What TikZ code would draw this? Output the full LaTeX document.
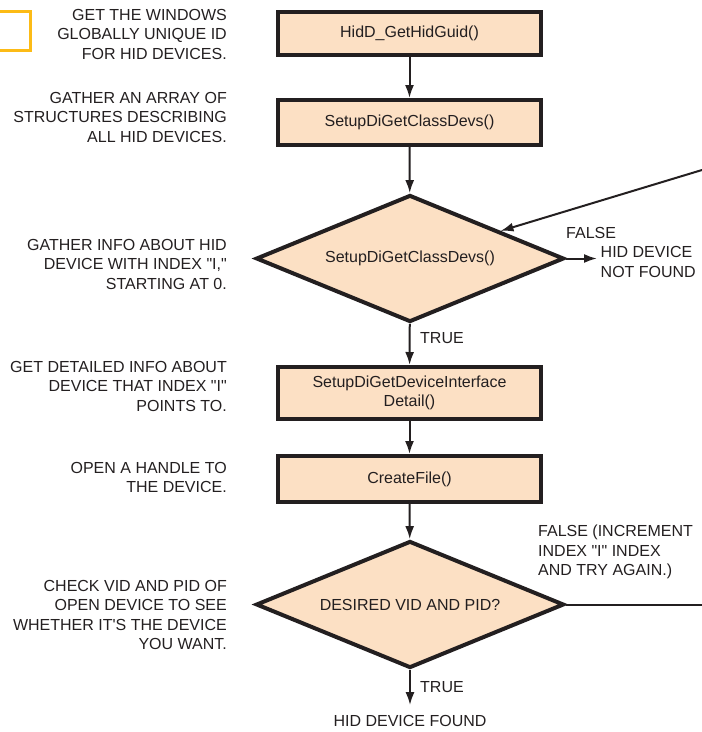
\documentclass[tikz,border=0pt]{standalone}
\usepackage{fontspec}
\setmainfont{Liberation Sans}[Ligatures=TeXOff]
\usetikzlibrary{shapes.geometric,arrows.meta,calc}
\definecolor{peach}{RGB}{252,224,196}
\definecolor{ink}{RGB}{35,31,32}
\definecolor{gold}{RGB}{252,187,22}

\begin{document}
\begin{tikzpicture}
[x=1pt,y=-1pt,>={Latex[length=13pt,width=9pt]},
 font=\fontsize{16}{19.5}\selectfont,text=ink,
 callbox/.style={draw=ink,line width=4pt,fill=peach,minimum width=263pt,inner sep=0pt,align=center},
 test/.style={diamond,aspect=2.5,draw=ink,line width=4pt,fill=peach,minimum width=308pt,minimum height=127pt,inner sep=0pt},
 note/.style={anchor=east,align=right,inner sep=0pt},
 tag/.style={anchor=west,align=left,inner sep=0pt},
 flow/.style={draw=ink,line width=2pt,->},]

\useasboundingbox (0,0) rectangle (702,732);

%Cut-off box at the edge
\draw[gold,line width=3pt] (0,11.5) -- (30.2,11.5) -- (30.2,50.5) -- (0,50.5);

%Steps of the flow
\node (guid) at (409.5,33.5)[callbox,minimum height=43pt] {HidD\_GetHidGuid()};
\node (classdevs) at (409.5,122.5)[callbox,minimum height=45pt] {SetupDiGetClassDevs()};
\node (enum) at (410,258.5)[test] {SetupDiGetClassDevs()};
\node (detail) at (409.5,393)[callbox,minimum height=52pt] {SetupDiGetDeviceInterface\\Detail()};
\node (open) at (409.5,479)[callbox,minimum height=46pt] {CreateFile()};
\node (check) at (410,604.5)[test] {DESIRED VID AND PID?};

%Notes on the left
\node (n1) at (227,34)[note] {GET THE WINDOWS\\GLOBALLY UNIQUE ID\\FOR HID DEVICES.};
\node (n2) at (227,117)[note] {GATHER AN ARRAY OF\\STRUCTURES DESCRIBING\\ALL HID DEVICES.};
\node (n3) at (227,264)[note] {GATHER INFO ABOUT HID\\DEVICE WITH INDEX "I,"\\STARTING AT 0.};
\node (n4) at (227,386)[note] {GET DETAILED INFO ABOUT\\DEVICE THAT INDEX "I"\\POINTS TO.};
\node (n5) at (227,477.5)[note] {OPEN A HANDLE TO\\THE DEVICE.};
\node (n6) at (227,615)[note] {CHECK VID AND PID OF\\OPEN DEVICE TO SEE\\WHETHER IT'S THE DEVICE\\YOU WANT.};

%Branch labels
\node (false1) at (566,233)[tag] {FALSE};
\node (notfound) at (597,262)[tag,inner sep=3.5pt] {HID DEVICE\\NOT FOUND};
\node (retry) at (538,552)[tag] {FALSE (INCREMENT\\INDEX "I" INDEX\\AND TRY AGAIN.)};
\node (true1) at (420,338)[tag] {TRUE};
\node (true2) at (420,687)[tag] {TRUE};
\node (found) at (410,721)[inner sep=0pt] {HID DEVICE FOUND};

\coordinate (loopin) at (702,170);
\coordinate (loopout) at (702,605);

%Connectors
\draw[flow] (guid) -- (classdevs);
\draw[flow] (classdevs) -- (enum);
\draw[flow] (enum) -- (detail);
\draw[flow] (detail) -- (open);
\draw[flow] (open) -- (check);
\draw[flow] (check) -- ([yshift=10pt]found.north);
\draw[flow] (enum.east) -- (enum.east -| notfound.west);
\draw[flow] (loopin) -- ($(enum.north)!0.58!(enum.east)$);
\draw[ink,line width=2pt] (check.east) -- (check.east -| loopout);
\end{tikzpicture}
\end{document}
